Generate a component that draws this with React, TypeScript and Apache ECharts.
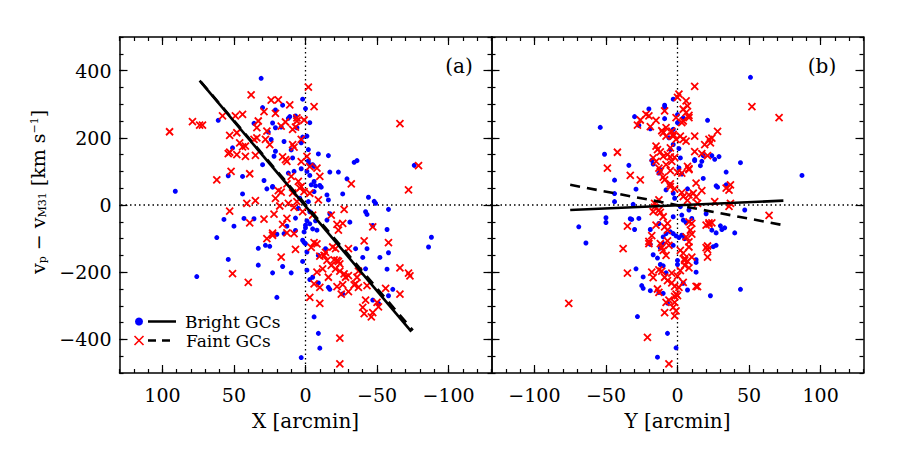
import React, { useEffect, useRef } from 'react';
import * as echarts from 'echarts';

// ---- axis ranges & tick labels ----
const X_RANGE = [-130, 130];
const V_RANGE = [-500, 500];
const xMajorTicks = [-100, -50, 0, 50, 100];
const vMajorTicks = [-400, -200, 0, 200, 400];
const legendLabels = ['Bright GCs', 'Faint GCs'];

// ---- panel (a): X [arcmin] vs velocity ----
const brightA = [
  [31,377],[2,315],[0,287],[16,297],[21,283],[30,290],[11,263],[12,258],[61,252],[36,243],[-3,245],[23,244],[21,230],[26,217],[17,232],[24,195],[15,189],[51,170],[3,185],[10,164],[-9,152],[-16,147],[21,160],[22,145],[-2,131],[-3,120],[-5,120],[-6,115],[30,120],[-1,100],[-3,88],[-36,132],[-34,127],[-17,98],[-23,98],[-29,78],[54,87],[44,85],[29,73],[23,53],[27,48],[23,55],[-4,60],[-7,57],[-10,58],[-11,53],[44,33],[-15,30],[-26,33],[-16,15],[-44,23],[-48,11],[-49,5],[-58,-13],[-42,-20],[-43,-28],[-17,-26],[-15,-45],[-7,-47],[-1,-47],[-3,-56],[57,-43],[50,-63],[43,-40],[36,-41],[0,-68],[-5,-71],[-8,-75],[15,-85],[20,-87],[-47,-61],[-57,-73],[62,-97],[2,-105],[1,-111],[0,-115],[33,-129],[28,-120],[25,-123],[-35,-130],[-43,-130],[-58,-142],[-52,-156],[-40,-156],[54,-162],[2,-168],[33,-179],[16,-183],[23,-202],[10,-202],[-1,-194],[-3,-222],[-5,-215],[-9,-232],[-16,-245],[-17,-251],[-26,-265],[-42,-190],[-57,-191],[-61,-251],[-58,-270],[-47,-283],[-51,-293],[20,-275],[76,-213],[91,41],[-6,-333],[-9,-382],[-10,-426],[3,-454],[-88,-96],[-86,-125],[-76,118],[-6,70],
  [12,95],[3,108],[8,100],[2,202],[7,265],[-31,-51],[-9,-150],[7,-76],[7,-39],[-14,-130],[0,-60],[1,-80],[-1,-140],[13,-63],[-2,10],[4,20],[-3,-20],[5,-10],[-6,40],[9,140],[-2,165],[6,230],[-1,205]
];
const faintA = [
  [95,218],[79,248],[74,238],[72,238],[58,265],[49,265],[44,270],[38,328],[29,278],[24,312],[19,313],[21,273],[11,298],[6,259],[6,250],[1,253],[-2,351],[-6,293],[9,225],[14,247],[17,235],[33,250],[34,230],[34,200],[53,207],[48,215],[53,157],[54,153],[46,185],[44,173],[42,175],[42,145],[48,150],[35,148],[36,195],[27,220],[25,180],[28,195],[16,143],[14,135],[13,130],[3,195],[9,180],[8,172],[-1,145],[3,129],[-3,114],[-8,110],[-10,85],[10,85],[13,63],[5,70],[3,55],[4,50],[62,75],[52,100],[39,93],[21,20],[19,43],[17,38],[9,36],[8,-7],[12,5],[1,40],[-3,35],[-9,15],[41,5],[35,13],[53,-18],[39,-53],[22,-27],[29,-42],[13,-40],[16,-58],[23,-90],[27,-100],[8,-85],[7,-132],[17,-155],[-18,-30],[-27,-13],[-32,63],[-22,-58],[-26,-55],[-23,-75],[-6,-112],[-8,-116],[-4,-126],[-10,-152],[-13,-150],[-15,-165],[-19,-125],[-20,-163],[-22,-165],[-23,-168],[-24,-175],[-30,-130],[-21,-190],[-24,-197],[-27,-205],[-30,-210],[-28,-215],[-36,-215],[-37,-197],[-26,-237],[-34,-238],[-37,-245],[-43,-240],[-56,-248],[-66,-187],[-72,-203],[-73,-211],[-41,-107],[-58,-112],[-47,-65],[-8,-200],[-16,-215],[-6,-235],[-10,-245],[-22,-243],[-25,-265],[-30,-258],[-42,-283],[-51,-303],[-47,-320],[-41,-323],[-46,-333],[-66,-265],[-3,-275],[-10,-293],[51,-204],[40,-230],[-24,-396],[-24,-473],[-66,242],[-79,117],[-72,45],
  [18,-3],[13,-83],[-21,-130],[-40,-305],[-50,-290],[-35,-235],[7,232],[23,-84],[-14,-141],[-18,-180],[-12,-190],[2,-20],[6,10],[-5,-30]
];
const fitBrightA = [[74, 370], [-74, -377]];
const fitFaintA = [[73, 366], [-75, -373]];

// ---- panel (b): Y [arcmin] vs velocity ----
const brightB = [
  [51,380],[-3,315],[-9,297],[-9,291],[-20,286],[-30,263],[-27,237],[-54,231],[21,252],[0,269],[-3,225],[-51,151],[-34,118],[-44,74],[-29,47],[-44,10],[-31,2],[-17,122],[-18,133],[-3,180],[-5,165],[1,168],[12,132],[17,130],[29,144],[24,147],[16,117],[34,98],[44,126],[87,88],[18,79],[27,57],[28,53],[34,60],[-5,60],[-3,35],[-8,45],[47,-15],[-3,-35],[3,-30],[4,-45],[6,-52],[10,-40],[-69,-65],[-50,-38],[-50,-52],[-33,-41],[-32,-43],[-27,-40],[-30,-73],[-13,-55],[-19,-73],[-5,-80],[-3,-85],[-1,-92],[1,-97],[3,-90],[30,-62],[31,-73],[33,-68],[40,-83],[-64,-113],[-19,-117],[-10,-115],[-3,-120],[25,-124],[27,-120],[13,-163],[13,-171],[13,-200],[7,-253],[4,-233],[-29,-190],[-24,-214],[-25,-240],[-24,-248],[-19,-255],[-8,-202],[-7,-292],[-28,-332],[-7,-382],[-14,-453],[-1,-425],[23,-270],[44,-251],[-10,-181],[-12,-177],[0,-165],[0,-177],
  [7,48],[3,92],[0,245],[4,259],[-9,257],[-19,227],[-44,34],[20,-26],[24,-75],[27,-83],[-17,-148],[-14,-158],[-12,-128],[-8,-85],[-10,-95],[-13,-260],[-10,-263],[-12,105],[-13,95],[-2,20],[2,140],[1,110],[-6,200],[18,147],[26,136],[12,135],[8,-15],[5,-100],[2,-5]
];
const faintB = [
  [12,353],[52,293],[71,260],[1,330],[0,320],[6,310],[7,295],[4,285],[6,275],[8,267],[8,260],[4,250],[3,245],[-1,260],[-9,280],[-11,221],[-10,215],[-8,205],[-4,220],[-3,210],[-3,205],[-1,195],[2,205],[4,195],[6,190],[12,205],[22,195],[28,219],[19,180],[23,185],[24,199],[17,153],[21,147],[-22,270],[-20,265],[-28,238],[-19,233],[-26,253],[-42,157],[-49,110],[-33,88],[-26,75],[-15,175],[-14,165],[-12,158],[-10,145],[-7,150],[-5,143],[-2,142],[-4,130],[-8,120],[-5,102],[0,97],[3,95],[7,115],[8,105],[-17,140],[-15,130],[-13,110],[-12,100],[-10,83],[-9,75],[-5,63],[-5,55],[-2,48],[3,37],[4,25],[8,30],[13,65],[17,43],[34,50],[36,44],[37,60],[37,5],[64,-31],[26,10],[14,5],[11,35],[-13,15],[-16,5],[-13,-15],[-12,-22],[-17,-20],[-10,-35],[-15,-60],[-9,-65],[-7,-55],[-7,-75],[8,-50],[10,-55],[9,-75],[10,-87],[20,-60],[22,-53],[24,-53],[-35,-63],[-38,-130],[-20,-108],[-20,-115],[-12,-115],[-11,-127],[-10,-135],[-7,-107],[-6,-120],[2,-135],[4,-143],[8,-125],[8,-110],[20,-127],[21,-133],[21,-155],[10,-155],[5,-160],[7,-167],[5,-180],[8,-187],[2,-195],[0,-212],[-4,-203],[-9,-215],[-11,-197],[-13,-193],[-7,-225],[-4,-232],[-2,-242],[1,-245],[-1,-265],[-2,-272],[-6,-283],[-2,-290],[-3,-305],[-1,-315],[-2,-330],[-17,-216],[-35,-203],[-13,-260],[14,-243],[-21,-394],[-76,-293],[-6,-473],
  [12,159],[8,108],[13,24],[7,14],[-18,-91],[-15,252],[-16,-6],[-8,-150],[-18,-200],[-14,-250],[-8,-290],[-9,-320],[36,-4],[22,-57],[21,-122],[13,-242],[6,-95],[5,-165],[4,-230],[0,-270],[-5,170],[-8,230]
];
const fitBrightB = [[-75, -15], [74, 13]];
const fitFaintB = [[-75, 60], [74, -60]];

const zeroVertical = [[0, V_RANGE[0]], [0, V_RANGE[1]]];
const zeroHorizontal = [[X_RANGE[0], 0], [X_RANGE[1], 0]];

const FONT = 'DejaVu Serif';
const fmt = (v: number) => (v < 0 ? '\u2212' + Math.abs(v) : String(v));
const lineStyle = { color: '#000', width: 1.5 };
const tickStyle = { color: '#000', width: 1.2 };

function xAxes(grid: number, inverse: boolean, name: string) {
  const base: any = { gridIndex: grid, type: 'value', min: X_RANGE[0], max: X_RANGE[1], inverse, splitLine: { show: false } };
  return [
    {
      ...base, position: 'bottom', interval: 10,
      axisLine: { show: true, onZero: false, lineStyle },
      axisTick: { show: true, inside: true, length: 4, lineStyle: tickStyle },
      axisLabel: { show: true, margin: 12, color: '#000', fontFamily: FONT, fontSize: 19,
        formatter: (v: number) => (xMajorTicks.includes(v) ? fmt(v) : '') },
      name, nameLocation: 'middle', nameGap: 38,
      nameTextStyle: { color: '#000', fontFamily: FONT, fontSize: 20 },
    },
    { ...base, position: 'top', interval: 10, axisLine: { show: true, onZero: false, lineStyle },
      axisTick: { show: true, inside: true, length: 4, lineStyle: tickStyle }, axisLabel: { show: false } },
    { ...base, position: 'bottom', axisLine: { show: false, onZero: false },
      axisTick: { show: true, inside: true, length: 8, customValues: xMajorTicks, lineStyle: tickStyle }, axisLabel: { show: false } },
    { ...base, position: 'top', axisLine: { show: false, onZero: false },
      axisTick: { show: true, inside: true, length: 8, customValues: xMajorTicks, lineStyle: tickStyle }, axisLabel: { show: false } },
  ];
}

function yAxes(grid: number, labels: boolean) {
  const base: any = { gridIndex: grid, type: 'value', min: V_RANGE[0], max: V_RANGE[1], splitLine: { show: false } };
  return [
    {
      ...base, position: 'left', interval: 50,
      axisLine: { show: true, onZero: false, lineStyle },
      axisTick: { show: true, inside: true, length: 4, lineStyle: tickStyle },
      axisLabel: { show: labels, margin: 8, color: '#000', fontFamily: FONT, fontSize: 19,
        formatter: (v: number) => (vMajorTicks.includes(v) ? fmt(v) : '') },
    },
    { ...base, position: 'right', interval: 50, axisLine: { show: true, onZero: false, lineStyle },
      axisTick: { show: true, inside: true, length: 4, lineStyle: tickStyle }, axisLabel: { show: false } },
    { ...base, position: 'left', axisLine: { show: false, onZero: false },
      axisTick: { show: true, inside: true, length: 8, customValues: vMajorTicks, lineStyle: tickStyle }, axisLabel: { show: false } },
    { ...base, position: 'right', axisLine: { show: false, onZero: false },
      axisTick: { show: true, inside: true, length: 8, customValues: vMajorTicks, lineStyle: tickStyle }, axisLabel: { show: false } },
  ];
}

function panelSeries(idx: number, bright: number[][], faint: number[][], fitB: number[][], fitF: number[][]) {
  const ax = { xAxisIndex: idx, yAxisIndex: idx };
  const dotted = { color: '#000', width: 1.3, type: [1.5, 3] as any };
  return [
    { type: 'line', ...ax, data: zeroVertical, symbol: 'none', lineStyle: dotted, silent: true, z: 1 },
    { type: 'line', ...ax, data: zeroHorizontal, symbol: 'none', lineStyle: dotted, silent: true, z: 1 },
    { type: 'scatter', ...ax, data: bright, symbol: 'circle', symbolSize: 5, itemStyle: { color: '#0000ff', opacity: 1 }, z: 2 },
    { type: 'scatter', ...ax, data: faint, symbol: 'path://M0,0L10,10M10,0L0,10', symbolSize: 7,
      itemStyle: { color: 'rgba(0,0,0,0)', borderColor: '#ff0000', borderWidth: 1.8, opacity: 1 }, z: 3 },
    { type: 'line', ...ax, data: fitF, symbol: 'none', lineStyle: { color: '#000', width: 2.6, type: [10, 7] as any }, z: 4 },
    { type: 'line', ...ax, data: fitB, symbol: 'none', lineStyle: { color: '#000', width: 2.6 }, z: 4 },
  ];
}

export default function App() {
  const ref = useRef<HTMLDivElement>(null);
  useEffect(() => {
    if (!ref.current) return;
    const chart = echarts.init(ref.current, undefined, { renderer: 'svg' });
    const legendText = { fill: '#000', fontFamily: FONT, fontSize: 17, lineHeight: 17, align: 'left', verticalAlign: 'middle' };
    const option: any = {
      animation: false,
      backgroundColor: '#ffffff',
      grid: [
        { left: 119.5, top: 37, width: 372, height: 336 },
        { left: 491.5, top: 37, width: 372, height: 336 },
      ],
      xAxis: [...xAxes(0, true, 'X [arcmin]'), ...xAxes(1, false, 'Y [arcmin]')],
      yAxis: [...yAxes(0, true), ...yAxes(1, false)],
      series: [
        ...panelSeries(0, brightA, faintA, fitBrightA, fitFaintA),
        ...panelSeries(4, brightB, faintB, fitBrightB, fitFaintB),
      ],
      graphic: [
        {
          type: 'text', x: 38, y: 192, rotation: Math.PI / 2,
          style: {
            text: 'v{s|p} \u2212 v{s|M31} [km s{u|\u22121}]',
            fill: '#000', fontFamily: FONT, fontSize: 19,
            align: 'center', verticalAlign: 'middle',
            rich: {
              s: { fontSize: 11, fontFamily: FONT, fill: '#000', verticalAlign: 'bottom', lineHeight: 11 },
              u: { fontSize: 11, fontFamily: FONT, fill: '#000', verticalAlign: 'top', lineHeight: 11 },
            },
          },
        },
        { type: 'text', x: 459, y: 66, style: { text: '(a)', fill: '#000', fontFamily: FONT, fontSize: 20, align: 'center', verticalAlign: 'middle' } },
        { type: 'text', x: 822, y: 66, style: { text: '(b)', fill: '#000', fontFamily: FONT, fontSize: 20, align: 'center', verticalAlign: 'middle' } },
        { type: 'circle', shape: { cx: 139, cy: 321.5, r: 4 }, style: { fill: '#0000ff' } },
        { type: 'line', shape: { x1: 148, y1: 321.5, x2: 176, y2: 321.5 }, style: { stroke: '#000', lineWidth: 2.5 } },
        { type: 'text', x: 185, y: 321.5, style: { ...legendText, text: legendLabels[0] } },
        { type: 'line', shape: { x1: 134.5, y1: 336, x2: 143.5, y2: 345 }, style: { stroke: '#ff0000', lineWidth: 1.6 } },
        { type: 'line', shape: { x1: 143.5, y1: 336, x2: 134.5, y2: 345 }, style: { stroke: '#ff0000', lineWidth: 1.6 } },
        { type: 'line', shape: { x1: 148, y1: 340.5, x2: 176, y2: 340.5 }, style: { stroke: '#000', lineWidth: 2.5, lineDash: [8, 6] } },
        { type: 'text', x: 186, y: 340.5, style: { ...legendText, text: legendLabels[1] } },
      ],
    };
    chart.setOption(option);
    return () => chart.dispose();
  }, []);
  return <div ref={ref} style={{ position: 'absolute', left: 0, top: 0, width: 899, height: 450 }} />;
}
